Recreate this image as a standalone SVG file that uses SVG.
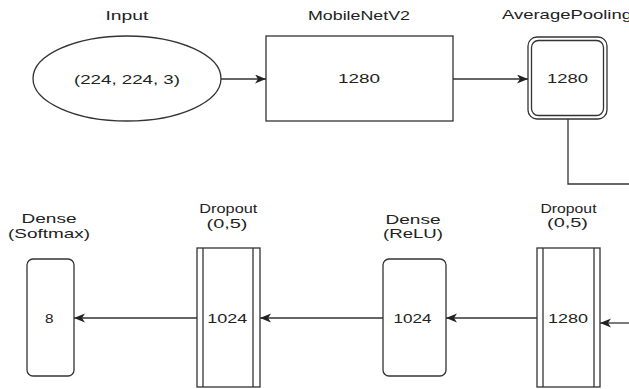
<svg xmlns="http://www.w3.org/2000/svg" width="629" height="389" viewBox="0 0 629 389">
<style>
text{font-family:"Liberation Sans",Arial,sans-serif;font-size:13px;fill:#222;text-anchor:middle}
.s{fill:#fff;stroke:#333;stroke-width:1.3}
.c{fill:none;stroke:#333;stroke-width:1.3}
</style>
<defs>
<marker id="a" markerUnits="userSpaceOnUse" markerWidth="12" markerHeight="10" refX="11" refY="4.5" orient="auto">
<path d="M0,0 L11,4.5 L0,9 L3,4.5 Z" fill="#222"/>
</marker>
</defs>
<rect width="629" height="389" fill="#fff"/>
<g id="connectors">
<line class="c" x1="221" y1="79" x2="266" y2="79" marker-end="url(#a)"/>
<line class="c" x1="453" y1="79" x2="528" y2="79" marker-end="url(#a)"/>
<polyline class="c" points="568,119 568,184 632,184"/>
<line class="c" x1="632" y1="323" x2="600" y2="323" marker-end="url(#a)"/>
<line class="c" x1="537" y1="318" x2="446" y2="318" marker-end="url(#a)"/>
<line class="c" x1="383" y1="318" x2="260" y2="318" marker-end="url(#a)"/>
<line class="c" x1="197" y1="318" x2="74" y2="318" marker-end="url(#a)"/>
</g>
<g id="input">
<text x="127" y="20" textLength="43" lengthAdjust="spacingAndGlyphs">Input</text>
<ellipse class="s" cx="127" cy="78.5" rx="94" ry="42.5"/>
<text x="127" y="84" textLength="106" lengthAdjust="spacingAndGlyphs">(224, 224, 3)</text>
</g>
<g id="mobilenet">
<text x="359" y="19.5" textLength="102" lengthAdjust="spacingAndGlyphs">MobileNetV2</text>
<rect class="s" x="266" y="36" width="187" height="85"/>
<text x="359" y="83" textLength="42" lengthAdjust="spacingAndGlyphs">1280</text>
</g>
<g id="avgpool">
<text x="567" y="19" textLength="130" lengthAdjust="spacingAndGlyphs">AveragePooling</text>
<rect class="s" x="528" y="37" width="79" height="82" rx="9"/>
<rect class="c" x="531.5" y="40.5" width="72" height="75" rx="7"/>
<text x="567.5" y="83" textLength="41" lengthAdjust="spacingAndGlyphs">1280</text>
</g>
<g id="dropout1">
<text x="568.5" y="213" textLength="56" lengthAdjust="spacingAndGlyphs">Dropout</text>
<text x="567.5" y="227" textLength="41" lengthAdjust="spacingAndGlyphs">(0,5)</text>
<rect class="s" x="537" y="248" width="63" height="139"/>
<line class="c" x1="543" y1="248" x2="543" y2="387"/>
<line class="c" x1="594" y1="248" x2="594" y2="387"/>
<text x="568" y="322.7" textLength="40" lengthAdjust="spacingAndGlyphs">1280</text>
</g>
<g id="dense-relu">
<text x="413" y="224" textLength="55" lengthAdjust="spacingAndGlyphs">Dense</text>
<text x="413" y="238" textLength="60" lengthAdjust="spacingAndGlyphs">(ReLU)</text>
<rect class="s" x="383" y="259" width="63" height="117" rx="6"/>
<text x="412.5" y="322.7" textLength="38" lengthAdjust="spacingAndGlyphs">1024</text>
</g>
<g id="dropout2">
<text x="228.3" y="213.3" textLength="58" lengthAdjust="spacingAndGlyphs">Dropout</text>
<text x="227" y="227.5" textLength="41" lengthAdjust="spacingAndGlyphs">(0,5)</text>
<rect class="s" x="197" y="248" width="63" height="139"/>
<line class="c" x1="203" y1="248" x2="203" y2="387"/>
<line class="c" x1="253" y1="248" x2="253" y2="387"/>
<text x="227.3" y="322.7" textLength="40" lengthAdjust="spacingAndGlyphs">1024</text>
</g>
<g id="dense-softmax">
<text x="49" y="223" textLength="55" lengthAdjust="spacingAndGlyphs">Dense</text>
<text x="49" y="238" textLength="82" lengthAdjust="spacingAndGlyphs">(Softmax)</text>
<rect class="s" x="27" y="259" width="47" height="117" rx="6"/>
<text x="49.2" y="322.7" textLength="8.5" lengthAdjust="spacingAndGlyphs">8</text>
</g>
</svg>
